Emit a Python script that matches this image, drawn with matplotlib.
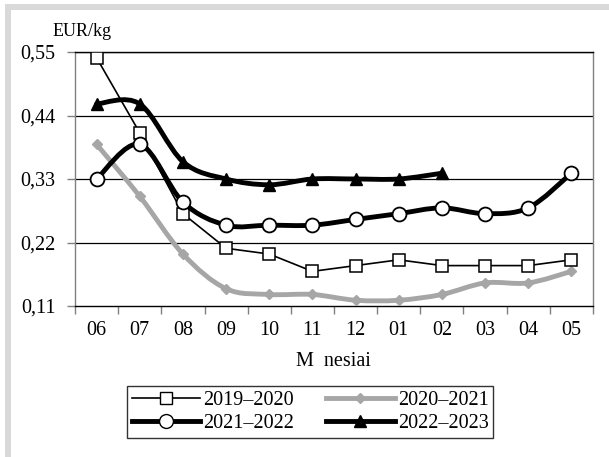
import matplotlib
matplotlib.use("Agg")
import matplotlib.pyplot as plt
from matplotlib.path import Path
from matplotlib.patches import PathPatch, Rectangle
from matplotlib.lines import Line2D
import numpy as np

plt.rcParams["font.family"] = ["Liberation Serif", "DejaVu Serif"]

MONTHS = ["06", "07", "08", "09", "10", "11", "12", "01", "02", "03", "04", "05"]
Y_TICKS = [0.11, 0.22, 0.33, 0.44, 0.55]

S_2019 = [0.54, 0.41, 0.27, 0.21, 0.20, 0.17, 0.18, 0.19, 0.18, 0.18, 0.18, 0.19]
S_2020 = [0.39, 0.30, 0.20, 0.14, 0.13, 0.13, 0.12, 0.12, 0.13, 0.15, 0.15, 0.17]
S_2021 = [0.33, 0.39, 0.29, 0.25, 0.25, 0.25, 0.26, 0.27, 0.28, 0.27, 0.28, 0.34]
S_2022 = [0.46, 0.46, 0.36, 0.33, 0.32, 0.33, 0.33, 0.33, 0.34]

GRAY = "#a6a6a6"
FS = 14.5


def smooth_path(x, y):
    """Excel-like smoothed line as cubic Bezier segments through the data points."""
    x = np.asarray(x, float)
    y = np.asarray(y, float)
    n = len(x)
    verts = [(x[0], y[0])]
    codes = [Path.MOVETO]
    for i in range(n - 1):
        x0, y0 = (x[i - 1], y[i - 1]) if i > 0 else (x[i], y[i])
        x3, y3 = (x[i + 2], y[i + 2]) if i + 2 < n else (x[i + 1], y[i + 1])
        c1 = (x[i] + (x[i + 1] - x0) / 6, y[i] + (y[i + 1] - y0) / 6)
        c2 = (x[i + 1] - (x3 - x[i]) / 6, y[i + 1] - (y3 - y[i]) / 6)
        verts += [c1, c2, (x[i + 1], y[i + 1])]
        codes += [Path.CURVE4] * 3
    return Path(verts, codes)


fig = plt.figure(figsize=(6.09, 4.57), dpi=100)
fig.patch.set_facecolor("white")
# light gray frame strips (top and left)
fig.patches.append(Rectangle((5 / 609, 1 - 10 / 457), 1, 6 / 457, transform=fig.transFigure,
                             color="#d9d9d9", lw=0, zorder=0))
fig.patches.append(Rectangle((5 / 609, 0), 6 / 609, 1 - 4 / 457, transform=fig.transFigure,
                             color="#d9d9d9", lw=0, zorder=0))

ax = fig.add_axes([75 / 609, 1 - 306 / 457, 518 / 609, 254 / 457])
xs = np.arange(len(MONTHS))

for val in Y_TICKS[1:]:
    ax.axhline(val, color="black", lw=0.9, zorder=1)

# 2020-2021 gray smoothed
ax.add_patch(PathPatch(smooth_path(xs, S_2020), fill=False, ec=GRAY, lw=3.5,
                       capstyle="round", joinstyle="round", zorder=2))
ax.plot(xs, S_2020, ls="none", marker="D", ms=5, color=GRAY, zorder=3)

# 2019-2020 thin line, white squares
ax.plot(xs, S_2019, color="black", lw=1.2, marker="s", ms=9, mfc="white", mec="black",
        mew=1.1, zorder=4)

# 2021-2022 thick smoothed, white circles
ax.add_patch(PathPatch(smooth_path(xs, S_2021), fill=False, ec="black", lw=3.5,
                       capstyle="round", joinstyle="round", zorder=5))
ax.plot(xs, S_2021, ls="none", marker="o", ms=10, mfc="white", mec="black", mew=1.3, zorder=6)

# 2022-2023 thick smoothed, black triangles
x22 = xs[:len(S_2022)]
ax.add_patch(PathPatch(smooth_path(x22, S_2022), fill=False, ec="black", lw=3.5,
                       capstyle="round", joinstyle="round", zorder=7))
ax.plot(x22, S_2022, ls="none", marker="^", ms=8, color="black", zorder=8)

ax.set_xlim(-0.5, len(MONTHS) - 0.5)
ax.set_ylim(0.11, 0.55)
ax.set_yticks(Y_TICKS)
ax.set_yticklabels([f"{v:.2f}".replace(".", ",") for v in Y_TICKS], fontsize=FS)
ax.set_xticks(xs)
ax.set_xticklabels(MONTHS, fontsize=FS)
ax.set_xticks(np.arange(len(MONTHS) + 1) - 0.5, minor=True)
ax.tick_params(axis="x", which="major", length=0, pad=11)
ax.tick_params(axis="x", which="minor", length=6, color="#808080", width=1)
ax.tick_params(axis="y", length=6, color="#808080", width=1, pad=8)

for side in ["left", "right"]:
    ax.spines[side].set_color("#808080")
ax.spines["top"].set_color("black")
ax.spines["bottom"].set_color("black")
for s in ax.spines.values():
    s.set_linewidth(1)

fig.text(53 / 609, 1 - 32 / 457, "EUR/kg", fontsize=13, va="center", ha="left")
fig.text(333 / 609, 1 - 361 / 457, "M  nesiai", fontsize=FS, va="center", ha="center")

h19 = Line2D([], [], color="black", lw=1.2, marker="s", ms=9, mfc="white", mec="black")
h20 = Line2D([], [], color=GRAY, lw=3.5, marker="D", ms=5)
h21 = Line2D([], [], color="black", lw=3.5, marker="o", ms=10, mfc="white", mec="black")
h22 = Line2D([], [], color="black", lw=3.5, marker="^", ms=8)
# legend fills column-wise, so order for row-wise reading
handles = [h19, h21, h20, h22]
labels = ["2019\u20132020", "2021\u20132022", "2020\u20132021", "2022\u20132023"]
leg = fig.legend(handles, labels, loc="center", bbox_to_anchor=(310 / 609, 1 - 412 / 457),
                 ncol=2, fontsize=FS, frameon=True, fancybox=False, edgecolor="black",
                 handlelength=3.4, handletextpad=0.15, columnspacing=1.6, labelspacing=0.2,
                 borderpad=0.25)
leg.get_frame().set_linewidth(1)

fig.savefig("out.png", dpi=100)
